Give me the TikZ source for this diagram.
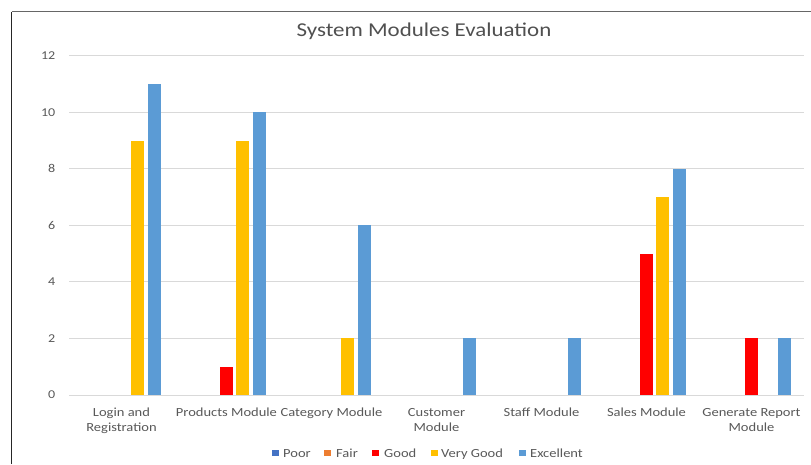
\documentclass[tikz,border=0pt]{standalone}
\usepackage{fontspec}
\setmainfont[FakeStretch=1.17]{Carlito}
\definecolor{txt}{HTML}{595959}
\definecolor{gridc}{HTML}{D9D9D9}
\definecolor{poor}{HTML}{4472C4}
\definecolor{fair}{HTML}{ED7D31}
\definecolor{good}{HTML}{FF0000}
\definecolor{vgood}{HTML}{FFC000}
\definecolor{exc}{HTML}{5B9BD5}
\begin{document}
\begin{tikzpicture}[x=1pt,y=-1pt,
  gridline/.style={draw=gridc,line width=0.9pt},
  ticklbl/.style={font=\fontsize{12}{14}\selectfont,text=txt,inner sep=0pt,anchor=east},
  catlbl/.style={font=\fontsize{12.4}{15.5}\selectfont,text=txt,inner sep=0pt,align=center,anchor=base},
  leglbl/.style={font=\fontsize{12.4}{15}\selectfont,text=txt,inner sep=0pt,anchor=base west},
  titlelbl/.style={font=\fontsize{19.6}{23}\selectfont,text=txt!90!black,inner sep=0pt,anchor=base}]
\useasboundingbox (0,0) rectangle (811,464);
\fill[white] (0,0) rectangle (811,464);
% frame
\draw[line width=1.4pt,color=black!60] (11.5,11.5) -- (811,11.5);
\draw[line width=1.4pt,color=black!85] (11.5,464) -- (11.5,11.5);
% title
\node[titlelbl] (title) at (424,36.6) {System Modules Evaluation};
% grid and ticks
\foreach \v in {0,2,...,12}{
  \draw[gridline] (69,{395-\v*28.275}) -- (804,{395-\v*28.275});
  \node[ticklbl] (tick\v) at (55.5,{395-\v*28.275}) {\v};
}
% bars: Good (offset 0), Very Good (+16.3), Excellent (+32.6)
\foreach \c/\v in {1/1,5/5,6/2}
  \fill[good] ({121.5+105*\c-6.4},395) rectangle ++(12.8,{-\v*28.275});
\foreach \c/\v in {0/9,1/9,2/2,5/7}
  \fill[vgood] ({121.5+105*\c+16.3-6.4},395) rectangle ++(12.8,{-\v*28.275});
\foreach \c/\v in {0/11,1/10,2/6,3/2,4/2,5/8,6/2}
  \fill[exc] ({121.5+105*\c+32.6-6.4},395) rectangle ++(12.8,{-\v*28.275});
% category labels (two-line labels anchored at the baseline of their last line)
\node[catlbl] (c0) at (121.5,431.5) {Login and\\Registration};
\node[catlbl] (c1) at (226.5,416) {Products Module};
\node[catlbl] (c2) at (331.5,416) {Category Module};
\node[catlbl] (c3) at (436.5,431.5) {Customer\\Module};
\node[catlbl] (c4) at (541.5,416) {Staff Module};
\node[catlbl] (c5) at (646.5,416) {Sales Module};
\node[catlbl] (c6) at (751.5,431.5) {Generate Report\\Module};
% legend
\foreach \x/\col/\name/\tx in {272/poor/Poor/283, 324/fair/Fair/336, 372/good/Good/384, 431/vgood/Very Good/441, 519/exc/Excellent/530}{
  \fill[\col] (\x,449.8) rectangle ++(6.6,6.6);
  \node[leglbl] (leg\col) at (\tx,457.5) {\name};
}
\end{tikzpicture}
\end{document}
